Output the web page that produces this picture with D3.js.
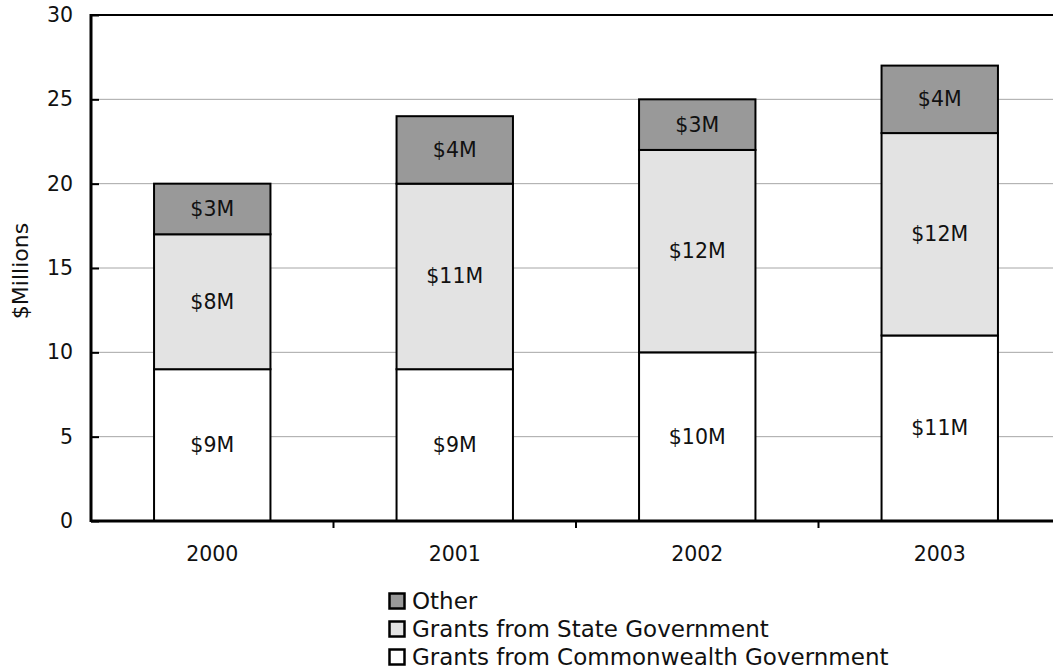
<!DOCTYPE html>
<html>
<head>
<meta charset="utf-8">
<script src="https://cdn.jsdelivr.net/npm/d3@7/dist/d3.min.js"></script>
<style>
  html, body { margin: 0; padding: 0; background: #fff; }
  svg { display: block; font-family: Verdana, "DejaVu Sans", sans-serif; }
</style>
</head>
<body>
<svg id="chart" width="1053" height="671"></svg>
<script>
// Funding by source, $ millions
const years = ["2000", "2001", "2002", "2003"];
const commonwealth = [9, 9, 10, 11];
const state = [8, 11, 12, 12];
const other = [3, 4, 3, 4];
const seriesNames = ["Grants from Commonwealth Government", "Grants from State Government", "Other"];
const seriesColors = ["#ffffff", "#e3e3e3", "#999999"];
const yTicks = [0, 5, 10, 15, 20, 25, 30];

const svg = d3.select("#chart");
const margin = { left: 91, top: 15, right: 1061, bottom: 521 };
const labelSize = 20.5;

const x = d3.scaleBand()
  .domain(years)
  .range([margin.left, margin.right])
  .paddingInner(0.52)
  .paddingOuter(0.26);

const y = d3.scaleLinear().domain([0, 30]).range([margin.bottom, margin.top]);

const rows = years.map((yr, i) => ({
  year: yr,
  "Grants from Commonwealth Government": commonwealth[i],
  "Grants from State Government": state[i],
  "Other": other[i]
}));
const stacked = d3.stack().keys(seriesNames)(rows);

// horizontal gridlines
svg.append("g")
  .selectAll("line")
  .data(yTicks.filter(t => t > 0 && t < 30))
  .join("line")
  .attr("x1", margin.left).attr("x2", margin.right)
  .attr("y1", d => y(d)).attr("y2", d => y(d))
  .attr("stroke", "#a6a6a6").attr("stroke-width", 1);

// top border of plot area
svg.append("line")
  .attr("x1", margin.left).attr("x2", margin.right)
  .attr("y1", y(30)).attr("y2", y(30))
  .attr("stroke", "#000").attr("stroke-width", 2);

// stacked bars
stacked.forEach((layer, li) => {
  const g = svg.append("g");
  g.selectAll("rect")
    .data(layer)
    .join("rect")
    .attr("x", d => x(d.data.year))
    .attr("width", x.bandwidth())
    .attr("y", d => y(d[1]))
    .attr("height", d => y(d[0]) - y(d[1]))
    .attr("fill", seriesColors[li])
    .attr("stroke", "#000")
    .attr("stroke-width", 2);
  g.selectAll("text")
    .data(layer)
    .join("text")
    .attr("x", d => x(d.data.year) + x.bandwidth() / 2)
    .attr("y", d => (y(d[0]) + y(d[1])) / 2)
    .attr("text-anchor", "middle")
    .attr("dominant-baseline", "central")
    .attr("font-size", labelSize)
    .attr("fill", "#111")
    .text(d => "$" + (d[1] - d[0]) + "M");
});

// y axis
const yAxis = svg.append("g")
  .attr("transform", `translate(${margin.left},0)`)
  .call(d3.axisRight(y).tickValues(yTicks).tickSize(8).tickFormat(""));
yAxis.select(".domain").remove();
yAxis.selectAll(".tick line").attr("stroke", "#000").attr("stroke-width", 2);
svg.append("line")
  .attr("x1", margin.left).attr("x2", margin.left)
  .attr("y1", y(30) - 1).attr("y2", y(0) + 1)
  .attr("stroke", "#000").attr("stroke-width", 3);

svg.append("g")
  .selectAll("text")
  .data(yTicks)
  .join("text")
  .attr("x", 73)
  .attr("y", d => y(d))
  .attr("text-anchor", "end")
  .attr("dominant-baseline", "central")
  .attr("font-size", labelSize)
  .attr("fill", "#111")
  .text(d => d);

// x axis
svg.append("line")
  .attr("x1", margin.left).attr("x2", margin.right)
  .attr("y1", y(0)).attr("y2", y(0))
  .attr("stroke", "#000").attr("stroke-width", 3);

const step = x.step();
svg.append("g")
  .selectAll("line")
  .data(years.slice(1))
  .join("line")
  .attr("x1", d => x(d) - (step - x.bandwidth()) / 2)
  .attr("x2", d => x(d) - (step - x.bandwidth()) / 2)
  .attr("y1", y(0)).attr("y2", y(0) + 7)
  .attr("stroke", "#000").attr("stroke-width", 2);

svg.append("g")
  .selectAll("text")
  .data(years)
  .join("text")
  .attr("x", d => x(d) + x.bandwidth() / 2)
  .attr("y", 554)
  .attr("text-anchor", "middle")
  .attr("dominant-baseline", "central")
  .attr("font-size", labelSize)
  .attr("fill", "#111")
  .text(d => d);

// axis title
svg.append("text")
  .attr("transform", `translate(28,${(margin.top + margin.bottom) / 2 + 3}) rotate(-90)`)
  .attr("text-anchor", "middle")
  .attr("font-size", 22)
  .attr("fill", "#111")
  .text("$Millions");

// legend
const legendItems = seriesNames.map((n, i) => ({ name: n, color: seriesColors[i] })).reverse();
const legend = svg.append("g").attr("transform", "translate(388,601)");
const li = legend.selectAll("g")
  .data(legendItems)
  .join("g")
  .attr("transform", (d, i) => `translate(0,${i * 28})`);
li.append("rect")
  .attr("x", 1.5).attr("y", -7.5)
  .attr("width", 15).attr("height", 15)
  .attr("fill", d => d.color)
  .attr("stroke", "#000").attr("stroke-width", 2.5);
li.append("text")
  .attr("x", 24)
  .attr("y", 0)
  .attr("dominant-baseline", "central")
  .attr("font-size", 23)
  .attr("fill", "#111")
  .text(d => d.name);
</script>
</body>
</html>
